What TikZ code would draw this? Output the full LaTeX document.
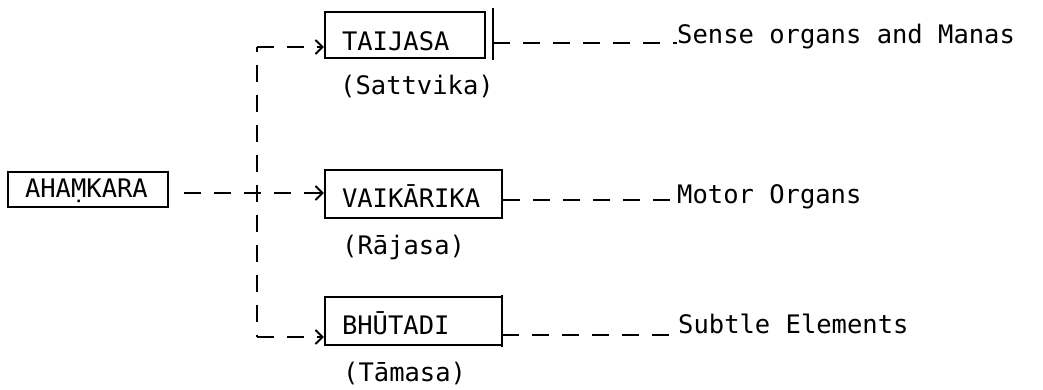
\documentclass[tikz,border=0pt]{standalone}
\usepackage{fontspec}
\setmonofont{DejaVu Sans Mono}
\usetikzlibrary{arrows.meta}
\newcommand{\tw}{\ttfamily\fontsize{25.5}{25.5}\selectfont}
\begin{document}
\begin{tikzpicture}[x=1pt,y=-1pt,
  boxnode/.style={draw, line width=2.2pt, inner ysep=0pt, inner xsep=17pt, align=left, font=\tw},
  lbl/.style={inner sep=0pt, anchor=west, font=\tw},
  dline/.style={line width=2.2pt, dash pattern=on 17pt off 13pt},
  solidline/.style={line width=2.2pt},
  arr/.style={-{Straight Barb[length=7pt,width=14pt,line width=2pt]}}
]
\useasboundingbox (0,0) rectangle (1043,389);
% boxes (text height shifts the caps downward inside the box)
\node[boxnode, minimum width=160pt, minimum height=35pt, text width=126pt,
  text height=18.6pt, text depth=2pt] (aham) at (88,189.5) {AHAṂKARA};
\node[boxnode, minimum width=160pt, minimum height=46pt, text width=126pt,
  text height=30.6pt, text depth=0pt] (taij) at (405,35) {TAIJASA};
\node[boxnode, minimum width=177pt, minimum height=48pt, text width=143pt,
  text height=26.6pt, text depth=0pt] (vaik) at (413.5,194) {VAIKĀRIKA};
\node[boxnode, minimum width=177pt, minimum height=48pt, text width=143pt,
  text height=26.6pt, text depth=0pt] (bhut) at (413.5,321) {BHŪTADI};
% sub labels
\node[lbl] (satt) at (340,86) {(Sattvika)};
\node[lbl] (raja) at (342,247) {(Rājasa)};
\node[lbl] (tama) at (343,373) {(Tāmasa)};
% right labels
\node[lbl] (sense) at (677,37) {Sense organs and Manas};
\node[lbl] (motor) at (677,197) {Motor Organs};
\node[lbl] (subtle) at (678,324) {Subtle Elements};
% right bars
\coordinate (tbt) at (493,8);
\coordinate (tbb) at (493,60);
\coordinate (bbt) at (502,295);
\coordinate (bbb) at (502,347);
\draw[solidline] (tbt) -- (tbb);
\draw[solidline] (bbt) -- (bbb);
% trunk
\coordinate (ctop) at (257,47);
\coordinate (cbot) at (257,337);
\draw[dline, dash phase=12.5pt] (ctop) -- (cbot);
\draw[dline, arr] (ctop) -- (taij.west |- ctop);
\draw[dline, arr] (cbot) -- (bhut.west |- cbot);
\draw[dline, arr, shorten <=15pt] (aham.east |- 0,193) -- (vaik.west |- 0,193);
% outputs
\draw[dline] (tbt |- 0,43) -- (sense.west |- 0,43);
\draw[dline] (vaik.east |- 0,200) -- (motor.west |- 0,200);
\draw[dline] (bbt |- 0,335) -- (subtle.west |- 0,335);
\end{tikzpicture}
\end{document}
